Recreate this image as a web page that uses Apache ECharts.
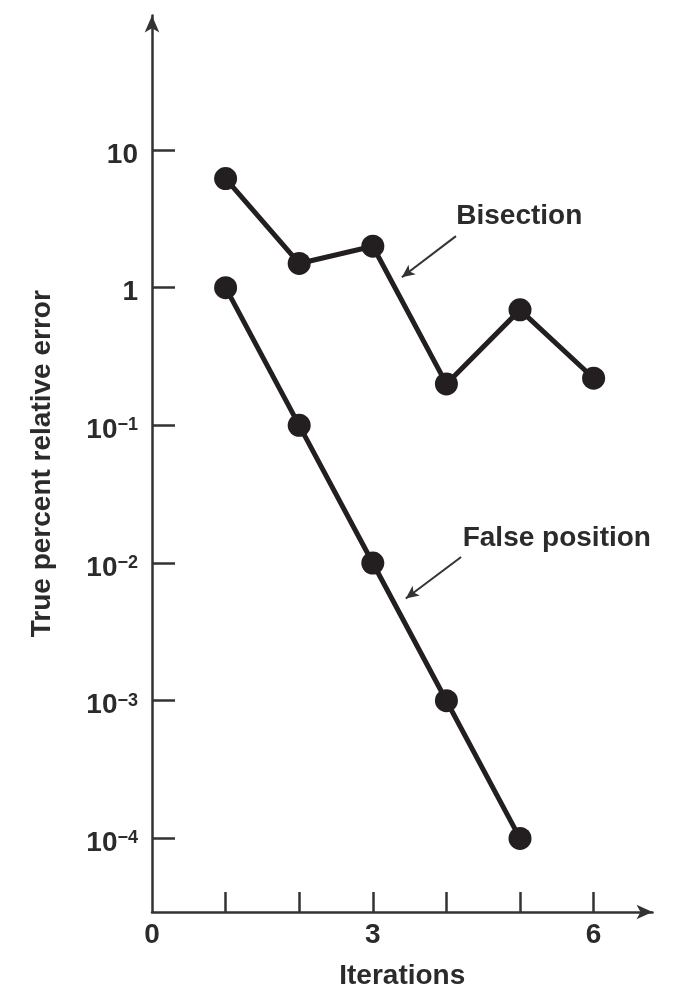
<!DOCTYPE html>
<html><head><meta charset="utf-8">
<script src="https://cdn.jsdelivr.net/npm/echarts@6/dist/echarts.min.js"></script>
<style>html,body{margin:0;padding:0;background:#fff}#c{width:674px;height:989px}</style>
</head><body><div id="c"></div>
<script>
// ---- data ----
const iterations = [1, 2, 3, 4, 5, 6];
const bisection = [6.2, 1.5, 2.0, 0.2, 0.69, 0.22];
const falsePosIterations = [1, 2, 3, 4, 5];
const falsePosition = [1, 0.1, 0.01, 0.001, 0.0001];
const yTickValues = [10, 1, 0.1, 0.01, 0.001, 0.0001];
const yTickLabels = ['10', '1', '10^−1', '10^−2', '10^−3', '10^−4'];
const xTickValues = [1, 2, 3, 4, 5, 6];
const xLabelValues = [0, 3, 6];
const xLabels = ['0', '3', '6'];
const annotationNames = ['Bisection', 'False position'];
const annotationTextAt = [[4.99, 3.32], [5.50, 0.0152]];
const annotationArrowFrom = [[4.13, 2.37], [4.20, 0.01106]];
const annotationArrowTo = [[3.394, 1.19], [3.448, 0.00553]];
const xRange = [0, 6.8];
const yRange = [2.92e-5, 95];

// ---- styling ----
const INK = '#231f20';
const TXT = '#2b2b2b';
const FONT = "'Liberation Sans', Arial, Helvetica, sans-serif";

const chart = echarts.init(document.getElementById('c'), null, {renderer: 'canvas'});

function pairs(xs, ys) { return xs.map((x, i) => [x, ys[i]]); }

function yLabelFormatter(value) {
  let idx = yTickValues.findIndex(v => Math.abs(Math.log10(v) - Math.log10(value)) < 1e-6);
  const lab = idx >= 0 ? yTickLabels[idx] : String(value);
  const parts = lab.split('^');
  if (parts.length === 2) return '{b|' + parts[0] + '}{s|' + parts[1] + '}';
  return '{b|' + lab + '}';
}
function xLabelFormatter(value) {
  const idx = xLabelValues.indexOf(value);
  return idx >= 0 ? xLabels[idx] : String(value);
}

function annotation(i) {
  return {
    markLine: {
      silent: true,
      symbol: ['none', 'arrow'],
      symbolSize: [9, 13],
      label: {show: false},
      lineStyle: {color: '#333', width: 2, type: 'solid'},
      emphasis: {disabled: true},
      animation: false,
      data: [[{coord: annotationArrowFrom[i]}, {coord: annotationArrowTo[i]}]]
    },
    markPoint: {
      silent: true,
      symbol: 'circle',
      symbolSize: 1,
      itemStyle: {color: 'rgba(0,0,0,0)'},
      animation: false,
      label: {
        show: true, position: 'inside', formatter: '{b}',
        fontFamily: FONT, fontSize: 28, fontWeight: 'bold', color: TXT
      },
      data: [{name: annotationNames[i], coord: annotationTextAt[i]}]
    }
  };
}

const lineCommon = {
  type: 'line',
  symbol: 'circle',
  symbolSize: 23,
  showSymbol: true,
  lineStyle: {color: INK, width: 5},
  itemStyle: {color: INK},
  emphasis: {disabled: true},
  animation: false
};

chart.setOption({
  animation: false,
  backgroundColor: '#fff',
  grid: {left: 152, top: 15.4, width: 500.5, height: 896.6, containLabel: false, outerBoundsMode: 'none'},
  xAxis: {
    type: 'value',
    min: xRange[0], max: xRange[1],
    name: 'Iterations',
    nameLocation: 'middle',
    nameGap: 50,
    nameTextStyle: {fontFamily: FONT, fontSize: 28, fontWeight: 'bold', color: TXT},
    axisLine: {show: true, symbol: ['none', 'arrow'], symbolSize: [11, 16],
      lineStyle: {color: '#333', width: 2.5}},
    axisTick: {show: true, inside: true, length: 20, customValues: xTickValues,
      lineStyle: {color: '#333', width: 2.5}},
    axisLabel: {show: true, customValues: xLabelValues, formatter: xLabelFormatter,
      margin: 9, fontFamily: FONT, fontSize: 28, fontWeight: 'bold', color: TXT},
    splitLine: {show: false}
  },
  yAxis: {
    type: 'log',
    logBase: 10,
    min: yRange[0], max: yRange[1],
    name: 'True percent relative error',
    nameLocation: 'middle',
    nameGap: 96,
    nameTextStyle: {fontFamily: FONT, fontSize: 28, fontWeight: 'bold', color: TXT},
    axisLine: {show: true, symbol: ['none', 'arrow'], symbolSize: [11, 17],
      lineStyle: {color: '#333', width: 2.5}},
    axisTick: {show: true, inside: true, length: 23, customValues: yTickValues,
      lineStyle: {color: '#333', width: 2.5}},
    minorTick: {show: false},
    axisLabel: {
      show: true, customValues: yTickValues, formatter: yLabelFormatter,
      margin: 14, padding: [10, 0, 0, 0],
      rich: {
        b: {fontFamily: FONT, fontSize: 28, fontWeight: 'bold', color: TXT, lineHeight: 28, verticalAlign: 'bottom'},
        s: {fontFamily: FONT, fontSize: 18, fontWeight: 'bold', color: TXT, lineHeight: 15, verticalAlign: 'top'}
      }
    },
    splitLine: {show: false}
  },
  series: [
    Object.assign({}, lineCommon, {name: 'Bisection', data: pairs(iterations, bisection)}, annotation(0)),
    Object.assign({}, lineCommon, {name: 'False position', data: pairs(falsePosIterations, falsePosition)}, annotation(1))
  ]
});
</script>
</body></html>
